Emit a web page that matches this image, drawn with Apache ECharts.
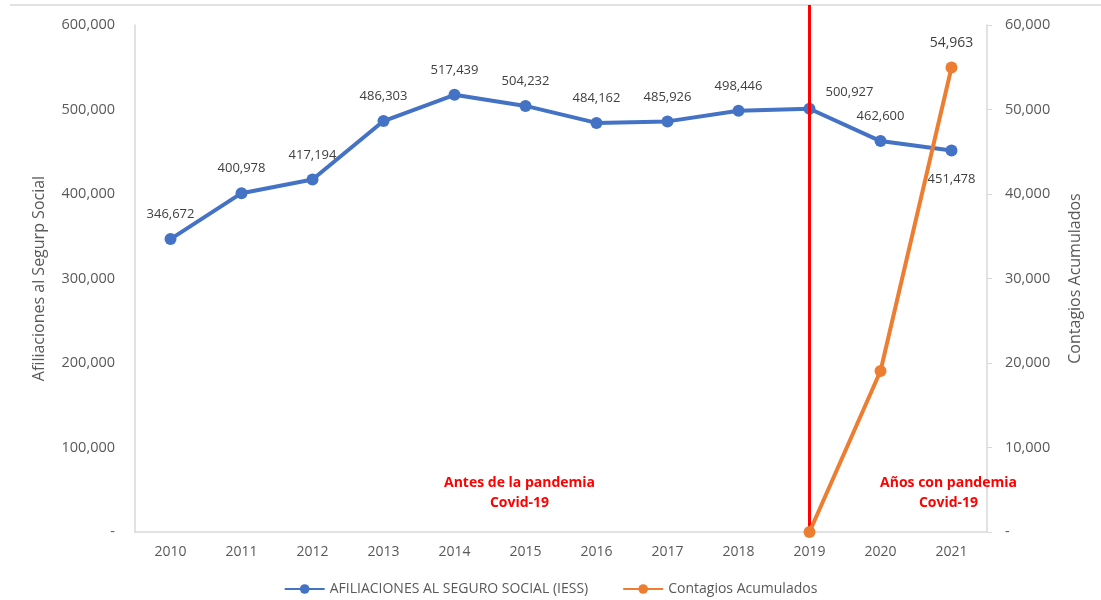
<!DOCTYPE html>
<html>
<head>
<meta charset="utf-8">
<script src="https://cdn.jsdelivr.net/npm/echarts@6/dist/echarts.min.js"></script>
<style>
  html, body { margin: 0; padding: 0; background: #fff; }
  #chart { width: 1101px; height: 600px; }
</style>
</head>
<body>
<div id="chart"></div>
<script>
const years = ['2010', '2011', '2012', '2013', '2014', '2015', '2016', '2017', '2018', '2019', '2020', '2021'];
const afiliaciones = [346672, 400978, 417194, 486303, 517439, 504232, 484162, 485926, 498446, 500927, 462600, 451478];
const contagios = [null, null, null, null, null, null, null, null, null, 0, 19050, 54963];
const leftTicks = [0, 100000, 200000, 300000, 400000, 500000, 600000];
const rightTicks = [0, 10000, 20000, 30000, 40000, 50000, 60000];

const fmt = v => v === 0 ? '-' : v.toLocaleString('en-US');
const font = 'Open Sans';
const grey = '#595959';

const chart = echarts.init(document.getElementById('chart'));

const option = {
  animation: false,
  textStyle: { fontFamily: font },
  grid: { left: 135, right: 114, top: 25, bottom: 68 },
  legend: {
    bottom: -1,
    left: 'center',
    itemGap: 34,
    itemWidth: 40,
    itemHeight: 12,
    textStyle: { color: grey, fontSize: 14, fontFamily: font },
    data: ['AFILIACIONES AL SEGURO SOCIAL (IESS)', 'Contagios Acumulados']
  },
  xAxis: {
    type: 'category',
    data: years,
    axisLine: { lineStyle: { color: '#d9d9d9', width: 1.5 } },
    axisTick: { show: false },
    axisLabel: { color: grey, fontSize: 14, margin: 13 }
  },
  yAxis: [
    {
      type: 'value',
      min: leftTicks[0],
      max: leftTicks[leftTicks.length - 1],
      interval: 100000,
      name: 'Afiliaciones al Segurp Social',
      nameLocation: 'middle',
      nameGap: 88,
      nameTextStyle: { color: grey, fontSize: 16 },
      axisLine: { show: true, lineStyle: { color: '#d9d9d9', width: 1.5 } },
      axisTick: { show: false },
      splitLine: { show: false },
      axisLabel: { color: grey, fontSize: 14.5, margin: 20, formatter: fmt }
    },
    {
      type: 'value',
      min: rightTicks[0],
      max: rightTicks[rightTicks.length - 1],
      interval: 10000,
      name: 'Contagios Acumulados',
      nameLocation: 'middle',
      nameGap: 80,
      nameRotate: 90,
      nameTextStyle: { color: grey, fontSize: 16 },
      axisLine: { show: true, lineStyle: { color: '#d9d9d9', width: 1.5 } },
      axisTick: { show: true, length: 5, lineStyle: { color: '#d9d9d9' } },
      splitLine: { show: false },
      axisLabel: { color: grey, fontSize: 14.5, margin: 18, formatter: fmt }
    }
  ],
  series: [
    {
      name: 'AFILIACIONES AL SEGURO SOCIAL (IESS)',
      type: 'line',
      yAxisIndex: 0,
      data: afiliaciones.map((v, i) => {
        const d = { value: v };
        if (years[i] === '2019') d.label = { position: 'right', offset: [-2, -16] };
        if (years[i] === '2021') d.label = { position: 'bottom', offset: [0, 4] };
        return d;
      }),
      symbol: 'circle',
      symbolSize: 12,
      lineStyle: { color: '#4472C4', width: 4 },
      itemStyle: { color: '#4472C4' },
      label: {
        show: true,
        position: 'top',
        distance: 12,
        color: '#404040',
        fontSize: 13,
        formatter: p => fmt(p.value)
      },
      z: 3
    },
    {
      name: 'Contagios Acumulados',
      type: 'line',
      yAxisIndex: 1,
      data: contagios.map((v, i) => years[i] === '2021' ? { value: v, label: { show: true } } : v),
      symbol: 'circle',
      symbolSize: 12,
      lineStyle: { color: '#ED7D31', width: 4 },
      itemStyle: { color: '#ED7D31' },
      label: {
        show: false,
        position: 'top',
        distance: 12,
        color: '#404040',
        fontSize: 14,
        formatter: p => fmt(p.value)
      },
      z: 5
    }
  ]
};

chart.setOption(option);

// red divider at 2019, spanning up to the top border
const xLine = chart.convertToPixel({ xAxisIndex: 0 }, '2019');
const yBottom = chart.convertToPixel({ yAxisIndex: 0 }, 0);
const xBefore = chart.convertToPixel({ xAxisIndex: 0 }, '2015') - 6;
const xAfter = chart.convertToPixel({ xAxisIndex: 0 }, '2021');
const annStyle = { fill: '#FF0000', font: 'bold 14px "Open Sans"', textAlign: 'center', lineHeight: 20 };

chart.setOption({
  graphic: [
    { type: 'line', shape: { x1: 10, y1: 5, x2: 1101, y2: 5 }, style: { stroke: '#d9d9d9', lineWidth: 1.5 }, z: 1 },
    { type: 'line', shape: { x1: xLine, y1: 5, x2: xLine, y2: yBottom }, style: { stroke: '#FF0000', lineWidth: 3 }, z: 4 },
    { type: 'text', x: xBefore, y: 473, style: Object.assign({ text: 'Antes de la pandemia\nCovid-19' }, annStyle), z: 6 },
    { type: 'text', x: xAfter - 3, y: 473, style: Object.assign({ text: 'Años con pandemia\nCovid-19' }, annStyle), z: 6 }
  ]
});
</script>
</body>
</html>
